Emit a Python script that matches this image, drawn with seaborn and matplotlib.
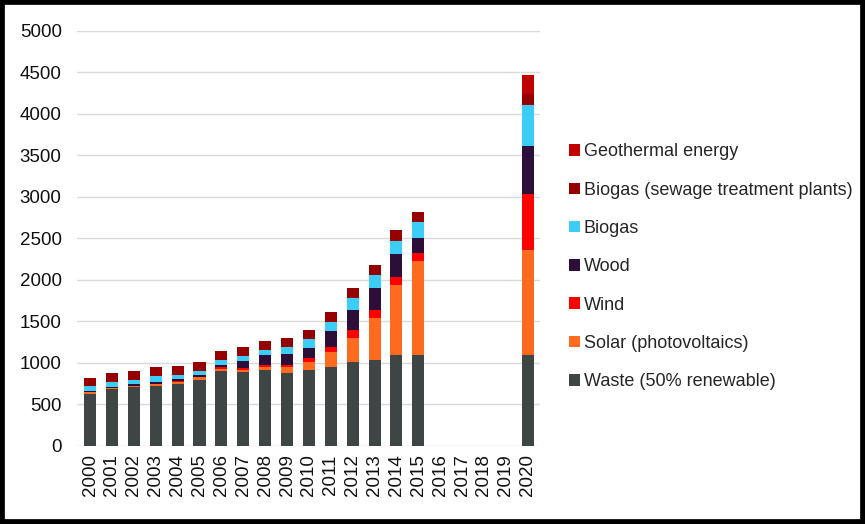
import numpy as np
import pandas as pd
import matplotlib
matplotlib.use("Agg")
import matplotlib.pyplot as plt
from matplotlib.patches import Patch, Rectangle
import seaborn as sns

# Renewable power by source, per year (no data 2016-2019)
years = [str(y) for y in range(2000, 2021)]

waste      = [630, 680, 705, 725, 745, 800, 900, 885, 912, 880, 918, 952, 1008, 1040, 1099, 1100,
              np.nan, np.nan, np.nan, np.nan, 1100]
solar      = [15, 15, 20, 25, 30, 25, 30, 32, 38, 70, 95, 175, 297, 504, 841, 1122,
              np.nan, np.nan, np.nan, np.nan, 1262]
wind       = [0, 0, 0, 0, 10, 5, 20, 23, 24, 20, 47, 70, 92, 91, 100, 107,
              np.nan, np.nan, np.nan, np.nan, 668]
wood       = [15, 15, 20, 25, 20, 25, 30, 85, 120, 140, 120, 187, 246, 270, 269, 171,
              np.nan, np.nan, np.nan, np.nan, 584]
biogas     = [60, 65, 55, 65, 50, 50, 50, 60, 66, 80, 103, 110, 139, 154, 163, 194,
              np.nan, np.nan, np.nan, np.nan, 488]
sewage     = [95, 105, 105, 105, 105, 105, 110, 105, 110, 115, 115, 118, 123, 123, 127, 119,
              np.nan, np.nan, np.nan, np.nan, 139]
geothermal = [0, 0, 0, 0, 0, 0, 0, 0, 0, 0, 0, 0, 0, 0, 0, 0,
              np.nan, np.nan, np.nan, np.nan, 228]

labels = ["Geothermal energy", "Biogas (sewage treatment plants)", "Biogas", "Wood",
          "Wind", "Solar (photovoltaics)", "Waste (50% renewable)"]
colors = ["#C00000", "#950000", "#3CCDF6", "#2C0E38", "#FF0000", "#FF6B1E", "#3F4444"]

# bottom-to-top stacking order
stack = [waste, solar, wind, wood, biogas, sewage, geothermal]
stack_colors = colors[::-1]

df = pd.DataFrame({"year": years})
cum = np.zeros(len(years))
for i, s in enumerate(stack):
    cum = cum + np.array(s, dtype=float)
    df[f"c{i}"] = cum

sns.set_theme(style="white")
plt.rcParams["font.family"] = ["Liberation Sans", "DejaVu Sans"]

fig = plt.figure(figsize=(8.65, 5.24), dpi=100)
ax = fig.add_axes([0.089, 0.149, 0.535, 0.792])

# draw cumulative totals from the top layer down so each lower layer covers the one above
for i in range(len(stack) - 1, -1, -1):
    sns.barplot(data=df, x="year", y=f"c{i}", color=stack_colors[i], ax=ax,
                width=0.55, saturation=1, linewidth=0, errorbar=None, order=years)

ax.set_ylim(0, 5000)
ax.set_xlim(-0.6, 20.55)
ax.set_yticks(np.arange(0, 5001, 500))
ax.set_yticklabels([str(v) for v in range(0, 5001, 500)])
ax.set_xlabel("")
ax.set_ylabel("")
ax.grid(axis="y", color="#D9D9D9", linewidth=1.0)
ax.grid(axis="x", visible=False)
ax.set_axisbelow(True)
for sp in ax.spines.values():
    sp.set_visible(False)
ax.tick_params(axis="y", length=0, pad=11, labelsize=13.5, labelcolor="#111111")
ax.tick_params(axis="x", length=0, pad=6, labelsize=13.5, labelcolor="#111111", rotation=90)

handles = [Patch(facecolor=c, edgecolor="none") for c in colors]
fig.legend(handles, labels, loc="center left", bbox_to_anchor=(0.658, 0.491),
           frameon=False, fontsize=13, handlelength=0.6, handleheight=0.6,
           handletextpad=0.2, labelspacing=1.18, borderaxespad=0, borderpad=0)

fig.patches.append(Rectangle((0, 0), 1, 1, transform=fig.transFigure, fill=False,
                             edgecolor="black", linewidth=7, zorder=10))

fig.savefig("out.png", dpi=100)
